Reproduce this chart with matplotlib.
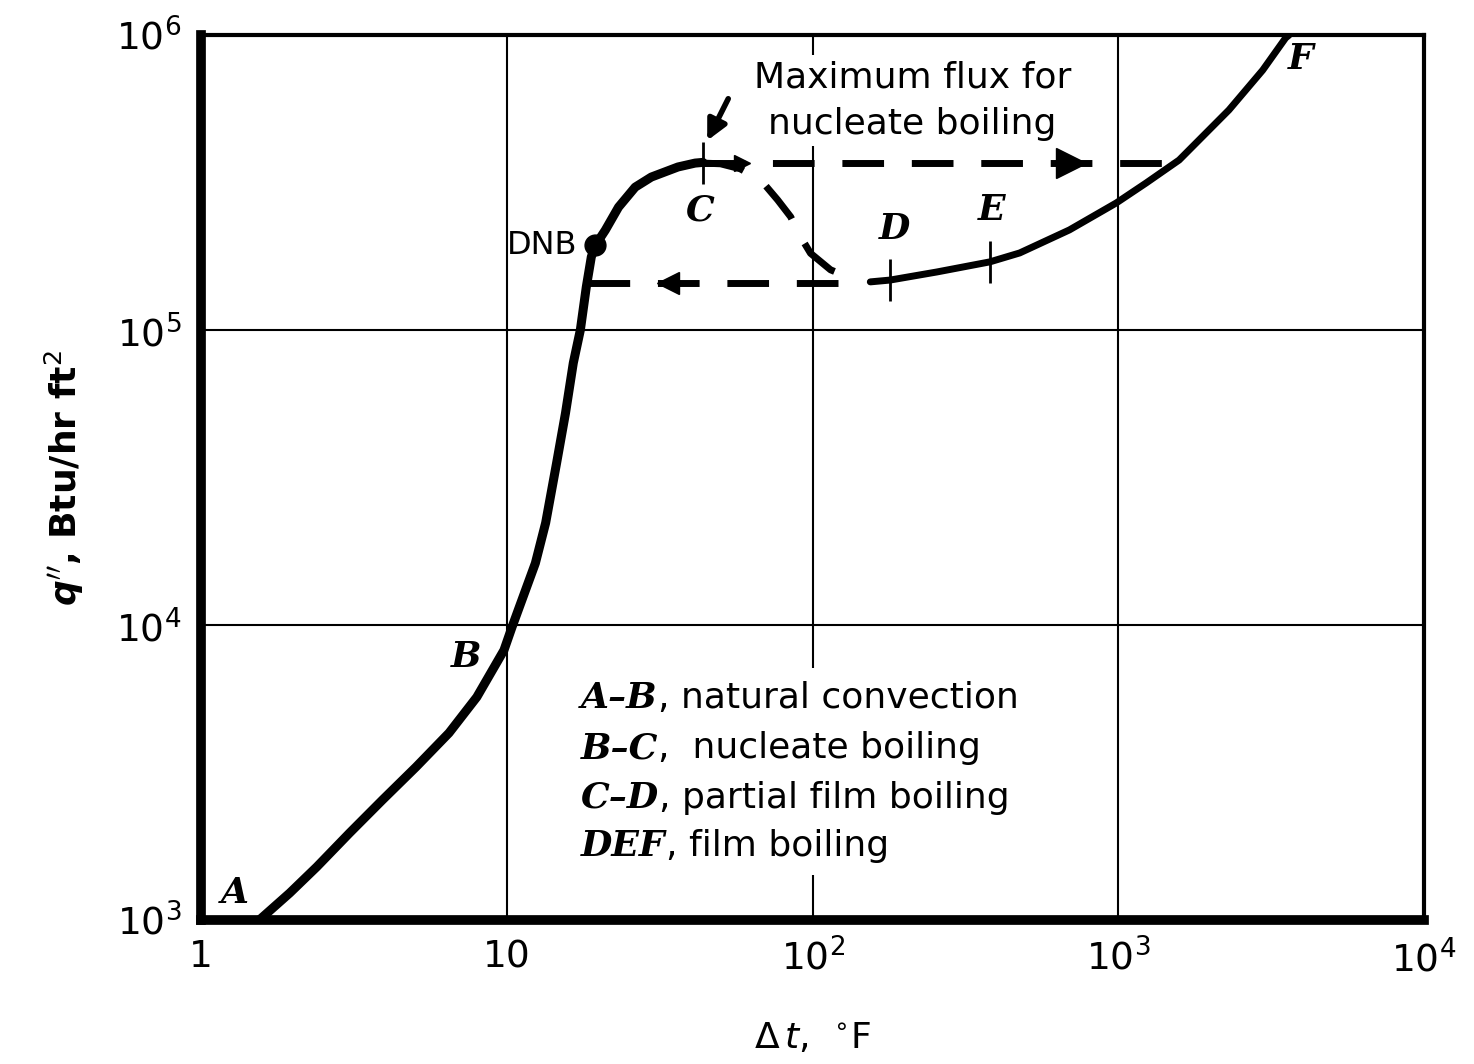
import matplotlib.pyplot as plt
from matplotlib.patches import Rectangle

# boiling curve (delta t in F, q'' in Btu/hr ft2)
boil_dt = [1.55, 1.95, 2.39, 3.06, 3.92, 5.05, 6.47, 7.98, 9.79, 10.4, 12.4, 13.4,
           14.55, 15.56, 16.5, 17.4, 18.2, 18.9, 19.5, 21.0, 23.2, 26.3, 29.7,
           36.3, 41.3, 43.8]
boil_q = [1000, 1235, 1514, 1973, 2553, 3304, 4306, 5700, 8220, 9840, 16200, 22200,
          35400, 52300, 77300, 100000, 140000, 177000, 194000, 218000, 261000,
          305000, 330000, 357000, 368000, 370000]

film_dt = [154.5, 179.5, 255, 380, 476, 692, 985, 1233, 1581, 2301, 2967, 3525, 3620]
film_q = [145600, 147700, 157300, 170200, 182500, 218400, 269600, 315000, 376800,
          557000, 760000, 977000, 1000000]

trans_dt = [43.8, 50, 58, 67.8, 76.9, 84.8, 91.4, 98.5, 114.5, 133, 142]
trans_q = [368000, 366000, 352000, 322000, 276000, 242000, 207000, 182000,
           160000, 150000, 144000]

q_max = 368000
q_min = 144000
top_dt = [43.8, 1581]
low_dt = [18.5, 142]

dnb = (19.5, 194000)
tick_pts = {"C": (43.8, 368000), "D": (179.5, 147700), "E": (380, 170200)}

x_ticks = [1, 10, 100, 1000, 10000]
x_labels = ["1", "10", "$10^2$", "$10^3$", "$10^4$"]
y_ticks = [1e3, 1e4, 1e5, 1e6]
y_labels = ["$10^3$", "$10^4$", "$10^5$", "$10^6$"]

legend_keys = ["A–B", "B–C", "C–D", "DEF"]
legend_desc = [", natural convection", ",  nucleate boiling",
               ", partial film boiling", ", film boiling"]
legend_y = [5233, 3541, 2398, 1648]

plt.rcParams['mathtext.fontset'] = 'dejavusans'
fig = plt.figure(figsize=(14.74, 10.64), dpi=100)
ax = fig.add_axes([0.1364, 0.1353, 0.8297, 0.8318])
ax.set_xscale('log')
ax.set_yscale('log')
ax.set_xlim(1, 1e4)
ax.set_ylim(1e3, 1e6)
ax.set_axisbelow(True)

ax.grid(True, which='major', color='black', lw=1.5)
ax.minorticks_off()
ax.tick_params(length=0, labelsize=27, pad=14)
ax.set_xticks(x_ticks)
ax.set_xticklabels(x_labels)
ax.set_yticks(y_ticks)
ax.set_yticklabels(y_labels)

for side in ['left', 'bottom']:
    ax.spines[side].set_linewidth(7)
for side in ['top', 'right']:
    ax.spines[side].set_linewidth(3)

# main curves
ax.plot(boil_dt, boil_q, color='black', lw=6.5, solid_capstyle='round',
        solid_joinstyle='round', zorder=4)
ax.plot(film_dt, film_q, color='black', lw=5, solid_capstyle='round',
        solid_joinstyle='round', zorder=4)

# dashed paths
dash = dict(color='black', lw=5, dashes=(6, 4), zorder=4)
ax.plot(trans_dt, trans_q, **dash)
ax.plot(top_dt, [q_max, q_max], **dash)
ax.plot(low_dt, [q_min, q_min], **dash)
ax.plot([700], [q_max], marker='>', ms=22, color='black', zorder=5)
ax.plot([59], [q_max], marker='>', ms=11, color='black', zorder=5)
ax.plot([33.7], [q_min], marker='<', ms=16, color='black', zorder=5)

ax.plot([dnb[0]], [dnb[1]], 'o', ms=15, color='black', zorder=5)
for k, (x, y) in tick_pts.items():
    ax.plot([x], [y], marker='|', ms=30, mew=2, color='black', zorder=5)

# point labels
lab = dict(fontsize=26, family='DejaVu Serif', style='italic', fontweight='bold',
           ha='center', va='center')
ax.text(1.29, 1.235e3, "A", **lab)
ax.text(7.35, 7.8e3, "B", **lab)
ax.text(43, 2.55e5, "C", **lab)
ax.text(185, 2.2e5, "D", **lab)
ax.text(385, 2.55e5, "E", **lab)
ax.text(3950, 8.3e5, "F", **lab)
ax.text(17.0, 1.93e5, "DNB", fontsize=23, ha='right', va='center')

ax.text(212, 6.0e5, "Maximum flux for\nnucleate boiling", fontsize=26,
        ha='center', va='center', linespacing=1.45,
        bbox=dict(facecolor='white', edgecolor='none', pad=4), zorder=3)
ax.annotate("", xy=(44.8, 4.3e5), xytext=(53.5, 6.2e5),
            arrowprops=dict(arrowstyle='-|>', color='black', lw=4,
                            mutation_scale=30), zorder=5)

# legend block, blanking the 10^2 grid line behind it
ax.add_patch(Rectangle((0.367, 0.051), 0.33, 0.234, transform=ax.transAxes,
                       facecolor='white', edgecolor='none', zorder=1))
for key, desc, y in zip(legend_keys, legend_desc, legend_y):
    t = ax.text(17.5, y, key, fontsize=26, family='DejaVu Serif', style='italic',
                fontweight='bold', ha='left', va='baseline', zorder=6)
    ax.annotate(desc, xy=(1, 0), xycoords=t, fontsize=26, ha='left',
                va='bottom', zorder=6)

ax.set_xlabel(r"$\Delta\, t$,  $^{\circ}$F", fontsize=26, labelpad=30)
ax.set_ylabel(r"$\boldsymbol{q}$$''$, Btu/hr ft$^2$", fontsize=26,
              fontweight='bold', labelpad=22)

fig.savefig("out.png", dpi=100)
